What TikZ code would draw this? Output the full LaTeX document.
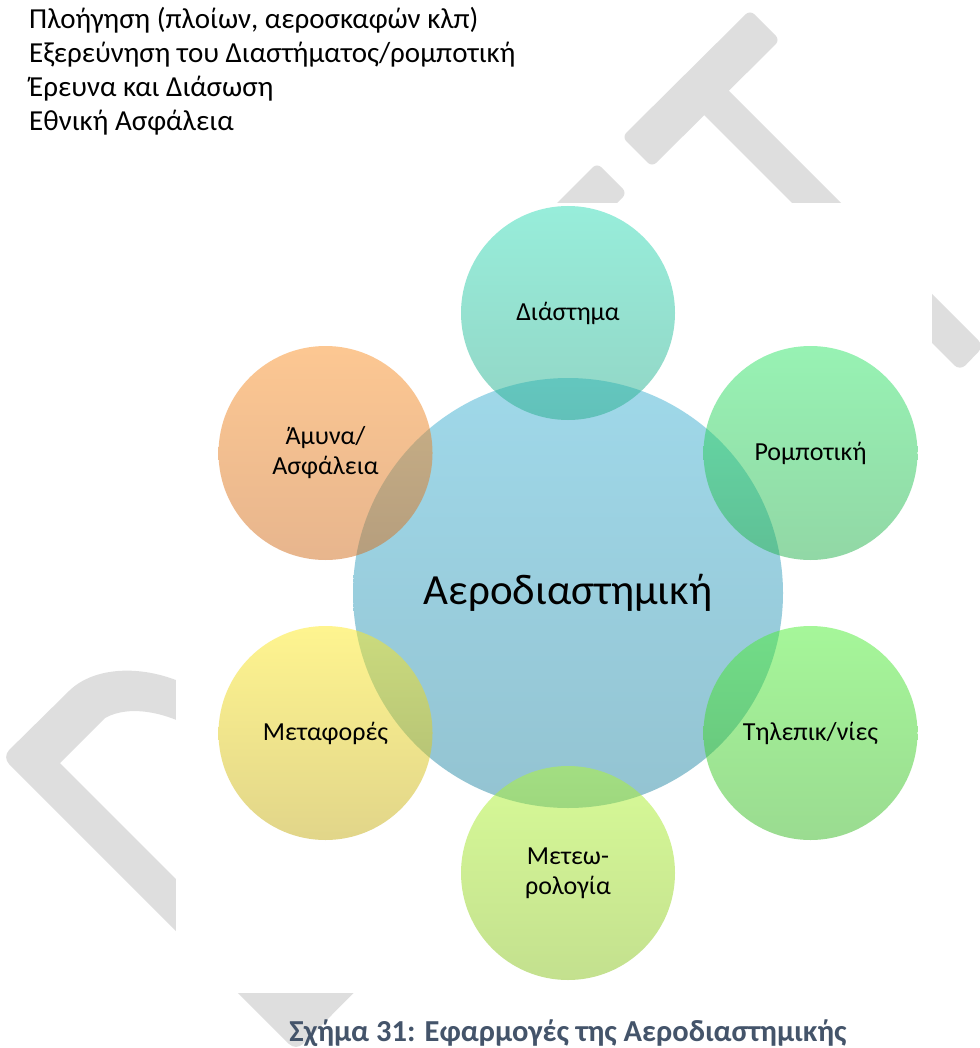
\documentclass[tikz,border=0pt]{standalone}
\usepackage{fontspec}
\setmainfont{Carlito}
\definecolor{wmgrey}{RGB}{222,222,222}
\definecolor{capblue}{RGB}{68,84,106}
\definecolor{aeroTop}{RGB}{65,179,213}
\definecolor{aeroBot}{RGB}{41,137,165}
\definecolor{spaceTop}{RGB}{49,221,183}
\definecolor{spaceBot}{RGB}{39,173,141}
\definecolor{robotTop}{RGB}{49,231,105}
\definecolor{robotBot}{RGB}{37,177,77}
\definecolor{telecomTop}{RGB}{77,239,53}
\definecolor{telecomBot}{RGB}{55,185,35}
\definecolor{meteoTop}{RGB}{177,247,49}
\definecolor{meteoBot}{RGB}{137,195,31}
\definecolor{transportTop}{RGB}{255,235,33}
\definecolor{transportBot}{RGB}{197,173,21}
\definecolor{defenceTop}{RGB}{251,145,39}
\definecolor{defenceBot}{RGB}{209,109,29}
\tikzset{
  bubble/.style={circle,inner sep=0pt,minimum size=214pt,fill opacity=0.5,text opacity=1,align=center,font=\fontsize{26}{30}\selectfont},
  hub/.style={bubble,minimum size=430pt,font=\fontsize{43}{50}\selectfont},
  wmark/.style={fill=wmgrey}
}
\begin{document}
\begin{tikzpicture}[x=1pt,y=-1pt]
\useasboundingbox (0,0) rectangle (979,1048);
% watermark behind the figure
\fill[wmark,rounded corners=6pt] (750,10) -- (780,40) -- (652,167) -- (622,137) -- cycle;
\fill[wmark,rounded corners=6pt] (597,163) -- (627,193) -- (515,305) -- (485,275) -- cycle;
\fill[wmark,rounded corners=8pt] (717,79) -- (984,346) -- (960,371) -- (693,104) -- cycle;
\fill[wmark] (205,695) .. controls (160,665) and (100,662) .. (70,690)
  [rounded corners=10pt] -- (2,757) -- (296,1051) [sharp corners] -- (430,916) -- (395,880)
  -- (286,989) -- (60,763) -- (105,718) .. controls (130,704) and (170,712) .. (205,735) -- cycle;
\fill[white] (176,203) rectangle (932,993);
% lines of text
\foreach \txt [count=\j from 0] in {{Πλοήγηση (πλοίων, αεροσκαφών κλπ)},{Εξερεύνηση του Διαστήματος/ρομποτική},{Έρευνα και Διάσωση},{Εθνική Ασφάλεια}}
  \node[anchor=base west,inner sep=0pt,font=\fontsize{29}{34}\selectfont] (line\j) at (29,{29+34*\j}) {\txt};
% the bubbles
\begin{scope}[shift={(568,593)}]
\node[hub,top color=aeroTop,bottom color=aeroBot] (aero) at (0,0) {Αεροδιαστημική};
\foreach \ang/\hue/\txt in {90/space/{Διάστημα},30/robot/{Ρομποτική},-30/telecom/{Τηλεπικ/νίες},-90/meteo/{Μετεω-\\ρολογία},210/transport/{Μεταφορές},150/defence/{Άμυνα/\\Ασφάλεια}}
  \node[bubble,top color=\hue Top,bottom color=\hue Bot] (\hue) at (\ang:280pt) {\txt};
\end{scope}
\node[anchor=base,inner sep=0pt,font=\bfseries\fontsize{30.5}{36}\selectfont,text=capblue] (caption) at (568,1041) {Σχήμα 31: Εφαρμογές της Αεροδιαστημικής};
\end{tikzpicture}
\end{document}
